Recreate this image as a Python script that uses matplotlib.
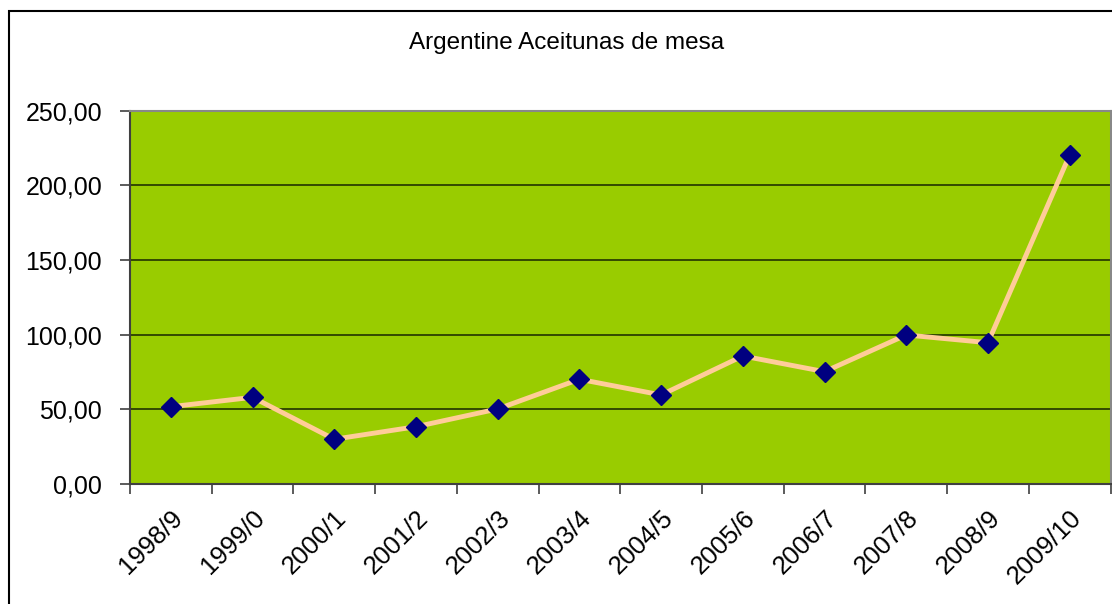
import matplotlib.pyplot as plt
from matplotlib.patches import Rectangle
from matplotlib.ticker import FuncFormatter, FixedLocator

plt.rcParams['font.family'] = ['Liberation Sans', 'DejaVu Sans']

seasons = ['1998/9', '1999/0', '2000/1', '2001/2', '2002/3', '2003/4',
           '2004/5', '2005/6', '2006/7', '2007/8', '2008/9', '2009/10']
values = [51.6, 57.9, 29.8, 38.2, 50.1, 70.0, 59.5, 85.6, 75.1, 99.7, 94.5, 220.3]

W, H = 1112, 604
fig = plt.figure(figsize=(W / 100, H / 100), dpi=100)

# outer chart frame (extends past right and bottom of the picture)
fig.patches.append(Rectangle((9 / W, 0 - 0.02), 1.2, 1 - 10.5 / H + 0.02,
                             transform=fig.transFigure, fill=False,
                             edgecolor='black', linewidth=1.5))

left, right, top, bottom = 130, 1110.5, 110.7, 483.7
ax = fig.add_axes([left / W, 1 - bottom / H, (right - left) / W, (bottom - top) / H])
ax.set_facecolor('#99CC00')

x = [i + 0.5 for i in range(len(seasons))]
ax.plot(x, values, color='#FFCC99', linewidth=3.5, marker='D', markersize=10.5,
        markerfacecolor='#000080', markeredgecolor='#000080', zorder=3)

ax.set_xlim(0, len(seasons))
ax.set_ylim(0, 250)
ax.set_yticks(range(0, 251, 50))
ax.yaxis.set_major_formatter(FuncFormatter(lambda v, p: f'{v:.2f}'.replace('.', ',')))
ax.grid(axis='y', color='#223300', linewidth=1.2)
ax.set_axisbelow(True)

# category ticks between points, labels at the points
ax.xaxis.set_major_locator(FixedLocator(range(len(seasons) + 1)))
ax.xaxis.set_major_formatter(FuncFormatter(lambda v, p: ''))
ax.xaxis.set_minor_locator(FixedLocator(x))
ax.set_xticklabels(seasons, minor=True, rotation=45, ha='right', rotation_mode='anchor',
                   fontsize=18.5)
ax.tick_params(axis='x', which='minor', length=0, pad=16)
ax.tick_params(axis='x', which='major', length=7, direction='out', color='#404040', width=1.2)
ax.tick_params(axis='y', length=7, direction='out', color='#404040', width=1.2,
               labelsize=18, pad=13)

for s in ['top', 'right']:
    ax.spines[s].set_color('#888888')
    ax.spines[s].set_linewidth(1.5)
for s in ['left', 'bottom']:
    ax.spines[s].set_color('#404040')
    ax.spines[s].set_linewidth(1.5)

fig.text(567 / W, 1 - 43 / H, 'Argentine Aceitunas de mesa', ha='center', va='center',
         fontsize=17.5)

fig.savefig('out.png', dpi=100)
